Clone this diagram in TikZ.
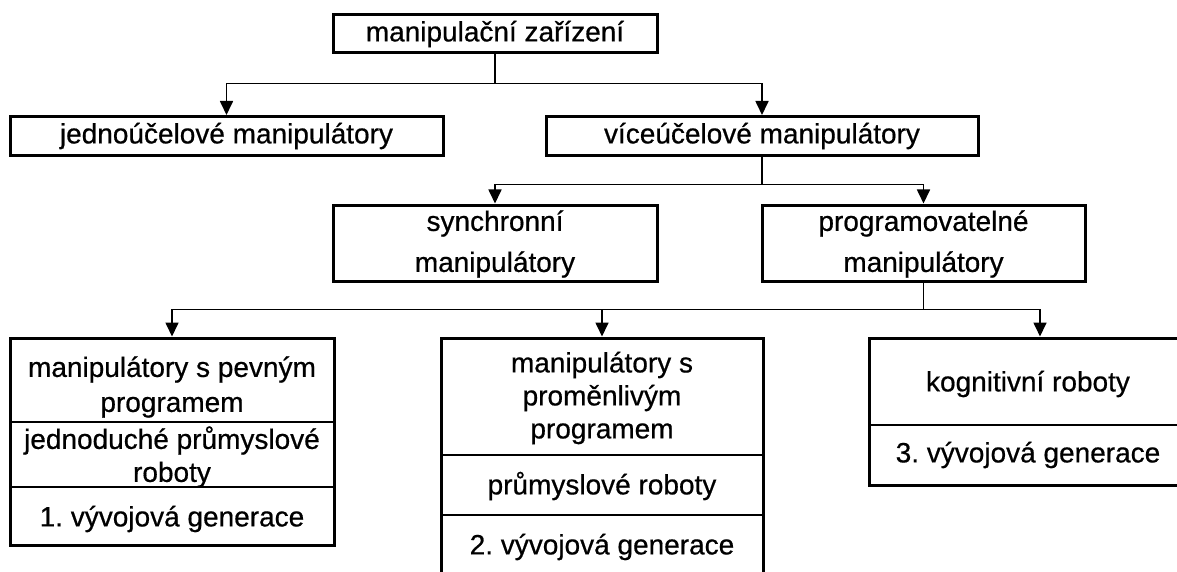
\documentclass[tikz,border=0pt]{standalone}
\usepackage{fontspec}
\setmainfont{Liberation Sans}[FakeBold=0.6]
\usetikzlibrary{arrows.meta}
\begin{document}
\frenchspacing
\begin{tikzpicture}[x=1pt,y=-1pt,
  box/.style={draw, line width=3pt, rectangle, inner sep=0pt},
  txt/.style={font=\fontsize{28}{33}\selectfont, align=center, inner sep=0pt},
  txtwide/.style={txt, font=\fontsize{28}{41}\selectfont},
  conn/.style={line width=1.7pt},
  arr/.style={conn, -{Triangle[width=13pt,length=14pt]}},
  divider/.style={line width=1.5pt},
  thickdivider/.style={line width=2.6pt}]
\useasboundingbox (0,0) rectangle (1177,572);
\fill[white] (0,0) rectangle (1177,572);
\begin{scope}
\clip (0,0) rectangle (1177,572);
% level 0
\node[box, minimum width=324pt, minimum height=38pt] (A) at (495,34) {};
\node[txt] (tA) at (A.center) {manipulační zařízení};
% level 1
\node[box, minimum width=433pt, minimum height=39pt] (B) at (226.5,136) {};
\node[txt] (tB) at (B.center) {jednoúčelové manipulátory};
\node[box, minimum width=432pt, minimum height=39pt] (C) at (762,136) {};
\node[txt] (tC) at (C.center) {víceúčelové manipulátory};
% level 2
\node[box, minimum width=324pt, minimum height=76pt] (D) at (495,243) {};
\node[txtwide] (tD) at (495,244) {synchronní\\manipulátory};
\node[box, minimum width=323pt, minimum height=76pt] (E) at (923.5,243) {};
\node[txtwide] (tE) at (923.5,244) {programovatelné\\manipulátory};
% level 3
\node[box, minimum width=324pt, minimum height=207pt] (F) at (172,441.5) {};
\node[box, minimum width=322pt, minimum height=262pt] (G) at (602,469) {};
\node[box, minimum width=342pt, minimum height=147pt] (H) at (1040,411.5) {};
% F sections
\coordinate (f1) at (10,422);
\coordinate (f2) at (10,487);
\draw[divider] (f1) -- (F.east |- f1);
\draw[thickdivider] (f2) -- (F.east |- f2);
\node[txt, font=\fontsize{28}{35}\selectfont] (tF1) at (172,387) {manipulátory s pevným\\programem};
\node[txt] (tF2) at (172,457) {jednoduché průmyslové\\roboty};
\node[txt] (tF3) at (172,519) {1. vývojová generace};
% G sections
\coordinate (g1) at (441,455);
\coordinate (g2) at (441,515);
\draw[divider] (g1) -- (G.east |- g1);
\draw[divider] (g2) -- (G.east |- g2);
\node[txt] (tG1) at (602,398) {manipulátory s\\proměnlivým\\programem};
\node[txt] (tG2) at (602,486) {průmyslové roboty};
\node[txt] (tG3) at (602,547) {2. vývojová generace};
% H sections
\coordinate (h1) at (869,425);
\draw[divider] (h1) -- (H.east |- h1);
\node[txt] (tH1) at (1028,384) {kognitivní roboty};
\node[txt] (tH2) at (1028,455) {3. vývojová generace};
\end{scope}
% connectors
\path (A.south) ++(0,29) coordinate (j1);
\draw[conn] (A.south) -- (j1);
\draw[arr] (j1) -| (B.north);
\draw[arr] (j1) -| (C.north);
\path (C.south) ++(0,27.5) coordinate (j2);
\draw[conn] (C.south) -- (j2);
\draw[arr] (j2) -| (D.north);
\draw[arr] (j2) -| (E.north);
\path (E.south) ++(0,27) coordinate (j3);
\draw[conn] (E.south) -- (j3);
\draw[arr] (j3) -| (F.north);
\draw[arr] (j3) -| (G.north);
\draw[arr] (j3) -| (H.north);
\end{tikzpicture}
\end{document}
